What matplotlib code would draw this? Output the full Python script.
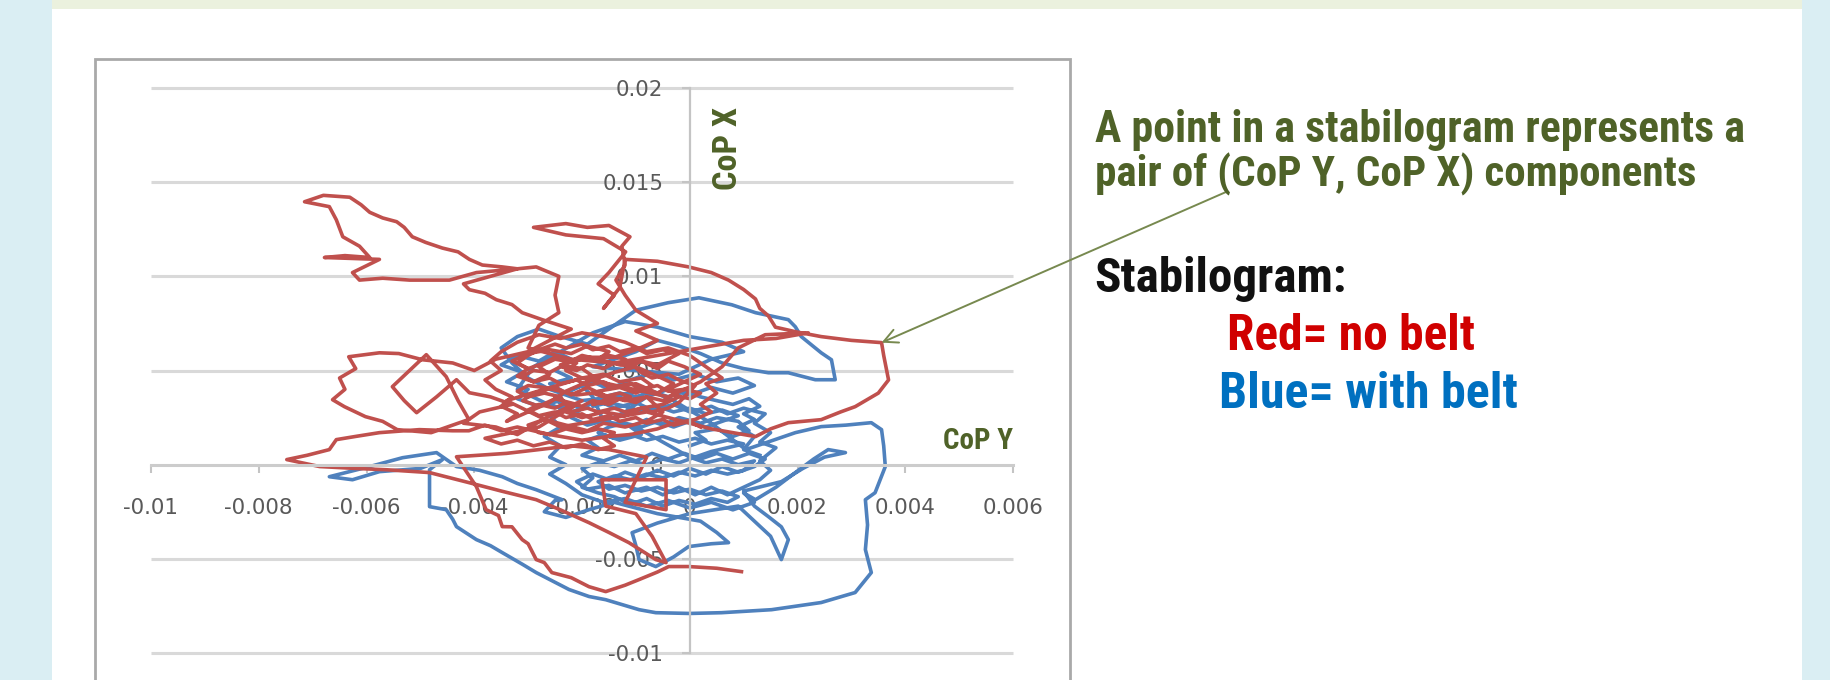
import matplotlib

matplotlib.use("Agg")
import matplotlib.pyplot as plt
import numpy as np
from matplotlib import font_manager
from matplotlib.patches import Rectangle

W, H = 1830, 680

x_ticks = [-0.01, -0.008, -0.006, -0.004, -0.002, 0, 0.002, 0.004, 0.006]
y_ticks = [-0.01, -0.005, 0, 0.005, 0.01, 0.015, 0.02]

# stabilogram traces as (CoP Y, CoP X) pairs in mm
red_dense = [
    (0.2, 2.0), (0.0, 2.3), (-0.3, 2.1), (-0.5, 2.4), (-0.8, 2.2), (-1.0, 2.5),
    (-1.3, 2.3), (-1.5, 2.6), (-1.8, 2.4), (-2.0, 2.7), (-2.3, 2.5), (-2.5, 2.8),
    (-2.8, 2.6), (-3.0, 2.9), (-2.8, 3.2), (-2.5, 3.0), (-2.3, 3.3), (-2.0, 3.1),
    (-1.8, 3.4), (-1.5, 3.2), (-1.3, 3.5), (-1.0, 3.3), (-0.8, 3.6), (-0.5, 3.4),
    (-0.3, 3.7), (0.0, 3.5), (0.2, 3.8), (-0.1, 4.0), (-0.4, 3.9), (-0.6, 4.2),
    (-0.9, 4.0), (-1.1, 4.3), (-1.4, 4.1), (-1.6, 4.4), (-1.9, 4.2), (-2.1, 4.5),
    (-2.4, 4.3), (-2.6, 4.6), (-2.9, 4.4), (-3.1, 4.7), (-2.9, 5.0), (-2.6, 4.9),
    (-2.4, 5.2), (-2.1, 5.0), (-1.9, 5.3), (-1.6, 5.1), (-1.4, 5.4), (-1.1, 5.2),
    (-0.9, 5.5), (-0.6, 5.3), (-0.4, 5.6), (-0.2, 5.9), (-0.5, 6.1), (-0.8, 5.9),
    (-1.0, 6.2), (-1.3, 6.0), (-1.5, 6.3), (-1.8, 6.1), (-2.0, 6.4), (-2.3, 6.2),
    (-2.5, 6.4), (-2.8, 6.1), (-3.0, 5.8), (-3.2, 5.4), (-3.0, 5.1), (-2.7, 5.4),
    (-2.5, 5.7), (-2.2, 5.5), (-2.0, 5.8), (-1.7, 5.6), (-1.5, 5.8), (-1.2, 5.6),
    (-0.9, 4.9), (-0.7, 4.6), (-0.4, 4.8), (-0.2, 4.5), (0.1, 4.2), (-0.2, 3.3),
    (-0.4, 3.0), (-0.7, 2.8), (-0.9, 3.0), (-1.2, 2.8), (-1.4, 3.0), (-1.7, 2.8),
    (-1.9, 3.0), (-2.2, 2.8), (-2.4, 3.6), (-2.7, 3.8), (-3.0, 3.6), (-3.2, 3.9),
    (-3.0, 4.2), (-2.7, 4.1), (-2.4, 3.9), (-2.1, 3.7), (-1.8, 3.8), (-1.6, 3.6),
    (-1.3, 3.8), (-1.1, 3.6),
]
red_core = [
    (-1.8, 3.2), (-1.5, 3.5), (-1.7, 3.9), (-1.3, 4.1), (-1.0, 3.8), (-0.7, 4.2),
    (-0.9, 4.6), (-1.3, 4.4), (-1.6, 4.8), (-2.0, 4.6), (-2.3, 5.0), (-2.1, 5.4),
    (-2.5, 5.6), (-2.8, 5.2), (-2.6, 4.8), (-2.9, 4.4), (-3.2, 4.7), (-3.0, 5.1),
    (-3.3, 5.5), (-3.0, 5.9), (-2.6, 6.1), (-2.2, 5.9), (-1.9, 6.3), (-1.5, 6.0),
    (-1.7, 5.6), (-1.3, 5.3), (-0.9, 5.5), (-0.6, 5.1), (-0.4, 5.5), (-0.1, 5.2),
    (0.2, 4.8), (-0.1, 4.4), (-0.4, 4.0), (-0.2, 3.6), (-0.5, 3.2), (-0.9, 3.0),
    (-1.2, 2.6), (-1.6, 2.8), (-2.0, 2.5), (-2.3, 2.8), (-2.1, 3.2), (-2.5, 3.5),
    (-2.8, 3.1), (-3.1, 3.4), (-2.9, 3.8), (-2.5, 4.1), (-2.2, 3.7), (-1.9, 4.1),
    (-1.6, 3.7), (-1.2, 3.4), (-0.8, 3.6), (-0.5, 2.8), (-0.8, 2.3), (-1.2, 2.0),
    (-1.6, 2.2), (-1.9, 1.8), (-2.3, 2.1), (-2.7, 2.4), (-3.0, 2.1), (-2.8, 1.7),
    (-2.4, 1.5), (-2.0, 1.3), (-1.5, 1.5), (-1.1, 1.6), (-0.6, 1.9), (-0.3, 2.2),
    (0.1, 2.4), (0.4, 2.8), (0.2, 3.2), (0.5, 3.8), (0.3, 4.3), (0.6, 4.6),
    (0.4, 5.0), (0.0, 5.8), (-0.4, 6.2), (-0.8, 6.0), (-1.2, 6.5), (-1.6, 6.8),
    (-2.0, 7.0), (-2.4, 6.7), (-2.8, 6.9), (-3.2, 6.5), (-3.5, 6.0), (-3.7, 5.5),
    (-3.5, 5.0), (-3.8, 4.5), (-3.6, 4.0), (-3.3, 3.6), (-3.5, 3.1), (-3.2, 2.7),
    (-3.4, 2.3), (-3.0, 2.8), (-2.6, 3.3), (-2.3, 3.9), (-1.9, 4.4), (-1.4, 4.9),
    (-1.0, 5.2), (-0.6, 4.7), (-0.3, 4.3), (-0.6, 3.8), (-1.0, 4.3), (-1.5, 4.1),
    (-2.0, 5.1), (-2.4, 5.3), (-1.9, 5.7), (-1.4, 5.7), (-1.0, 6.1), (-0.6, 6.6),
    (-1.0, 7.1), (-0.6, 7.5), (-1.0, 8.2),
]
red_upper_hook = [
    (-1.2, 9.0), (-1.37, 9.8), (-1.2, 10.6), (-1.26, 11.6), (-1.11, 12.1),
    (-1.5, 12.7), (-1.9, 12.6), (-2.3, 12.8), (-2.9, 12.6), (-2.3, 12.2),
    (-1.6, 12.0), (-1.19, 11.3), (-1.5, 10.2), (-1.7, 9.6), (-1.4, 9.0),
    (-1.6, 8.3), (-1.3, 9.4), (-1.2, 10.9),
]
red_right_loop = [
    (-0.6, 10.8), (-0.02, 10.5), (0.4, 10.2), (0.72, 9.8), (1.0, 9.3), (1.22, 8.8),
    (1.3, 8.3), (1.46, 7.9), (1.59, 7.3), (1.96, 7.06), (2.44, 6.8), (3.0, 6.6),
    (3.56, 6.48), (3.6, 5.8), (3.69, 4.5), (3.5, 3.8), (3.07, 3.08), (2.8, 2.8),
    (2.44, 2.39), (1.83, 2.23), (1.5, 1.9), (1.22, 1.49), (0.8, 1.7), (0.4, 1.9),
    (-0.8, 2.8), (-2.4, 2.0), (-3.4, 3.4), (-2.0, 4.6), (-0.4, 3.6), (0.2, 4.4),
    (0.6, 5.2), (0.9, 6.2), (1.4, 6.9), (2.2, 7.0), (1.6, 6.7), (1.0, 6.6),
    (0.2, 6.2), (-0.6, 5.8), (-1.4, 5.4), (-2.2, 5.6), (-3.0, 6.2), (-2.8, 7.4),
    (-2.43, 8.07),
]
red_top_left = [
    (-2.5, 9.0), (-2.43, 10.0), (-2.85, 10.5), (-3.2, 10.4), (-3.48, 10.5),
    (-3.85, 10.6), (-4.09, 10.9), (-4.3, 11.3), (-4.59, 11.5), (-4.9, 11.8),
    (-5.15, 12.1), (-5.3, 12.6), (-5.44, 12.9), (-5.7, 13.1), (-5.94, 13.4),
    (-6.1, 13.8), (-6.31, 14.2), (-6.8, 14.3), (-7.15, 13.96), (-6.69, 13.7),
    (-6.56, 13.0), (-6.44, 12.1), (-6.13, 11.6), (-5.94, 11.0), (-6.4, 11.1),
    (-6.78, 11.0), (-5.76, 10.9), (-6.26, 10.2), (-6.13, 9.8), (-5.7, 9.9),
    (-5.2, 9.8), (-4.46, 9.8), (-3.96, 10.2), (-3.2, 10.4), (-4.2, 9.6),
    (-4.09, 9.29), (-3.8, 9.1), (-3.59, 8.76), (-3.3, 8.5), (-3.11, 8.07),
    (-2.74, 7.7), (-2.2, 7.2),
]
red_left_loop = [
    (-3.0, 6.0), (-3.6, 5.6), (-4.0, 5.0), (-4.4, 5.4), (-4.96, 5.57),
    (-5.4, 5.9), (-5.76, 5.94), (-6.33, 5.73), (-6.2, 5.1), (-6.5, 4.6),
    (-6.4, 4.0), (-6.63, 3.45), (-6.41, 3.08), (-6.02, 2.55), (-5.7, 2.3),
    (-5.43, 1.86), (-4.8, 1.7), (-4.1, 2.4), (-4.3, 3.4), (-4.52, 4.67),
    (-4.89, 5.84), (-5.2, 5.0), (-5.52, 4.14), (-5.3, 3.4), (-5.07, 2.76),
    (-4.7, 3.6), (-4.33, 4.51), (-4.09, 3.82), (-3.7, 3.6), (-3.3, 3.2),
    (-3.9, 2.8), (-4.2, 2.2), (-3.6, 2.0), (-3.2, 1.6), (-2.6, 2.6),
    (-2.0, 3.4), (-2.8, 2.0), (-3.8, 1.4),
]
red_low_band = [
    (-3.5, 1.1), (-3.2, 1.3), (-2.9, 1.0), (-2.6, 1.2), (-2.3, 0.9), (-2.0, 1.1),
    (-1.7, 0.8), (-1.4, 1.0), (-1.6, 1.4), (-1.4, 1.7), (-1.7, 1.9), (-2.0, 1.7),
    (-2.3, 1.9), (-2.6, 1.6), (-2.9, 1.8), (-3.2, 2.0), (-3.5, 1.8), (-3.8, 2.1),
    (-4.1, 1.8),
]
red_left_spike = [
    (-4.4, 1.8), (-5.02, 1.86), (-5.76, 1.7), (-6.2, 1.5), (-6.56, 1.33),
    (-6.69, 0.8), (-7.1, 0.5), (-7.48, 0.27), (-6.87, -0.1), (-6.2, -0.2),
    (-5.63, -0.27), (-4.83, -0.42), (-4.09, -0.96), (-3.5, -1.4), (-2.85, -1.86),
    (-2.4, -2.4), (-1.87, -3.08), (-1.5, -3.6), (-1.13, -4.14), (-0.63, -5.04),
    (-0.44, -5.2), (-0.7, -3.8), (-1.0, -2.6), (-1.56, -2.2), (-1.63, -0.8),
    (-0.44, -0.8), (-0.44, -2.39), (-1.2, -2.0), (-0.8, 0.4), (-1.5, 0.8),
    (-2.2, 1.0), (-2.8, 0.8), (-3.4, 0.6), (-4.33, 0.42),
]
red_lower_tail = [
    (-3.96, -1.17), (-3.78, -2.39), (-3.55, -2.7), (-3.48, -3.29), (-3.3, -3.3),
    (-3.11, -3.98), (-3.0, -4.2), (-2.85, -5.04), (-2.7, -5.2), (-2.56, -5.73),
    (-2.2, -6.0), (-1.87, -6.48), (-1.56, -6.74), (-1.2, -6.4), (-0.94, -6.1),
    (-0.6, -5.7), (-0.39, -5.41), (-0.02, -5.41), (0.5, -5.5), (0.96, -5.68),
]

blue_core = [
    (0.0, 1.0), (0.3, 1.3), (0.1, 1.7), (0.5, 1.9), (0.8, 1.5), (1.1, 1.8),
    (0.9, 2.3), (0.5, 2.5), (0.2, 2.2), (-0.2, 2.5), (-0.5, 2.1), (-0.8, 2.4),
    (-1.1, 2.0), (-0.9, 1.6), (-1.3, 1.3), (-1.6, 1.6), (-1.9, 1.3), (-1.7, 0.9),
    (-2.0, 0.5), (-1.6, 0.2), (-1.3, 0.5), (-1.0, 0.2), (-0.7, 0.6), (-0.4, 0.3),
    (-0.1, 0.6), (0.2, 0.3), (0.5, 0.6), (0.8, 0.3), (1.1, 0.6), (1.4, 0.3),
    (1.2, -0.1), (0.9, -0.4), (0.6, -0.1), (0.3, -0.5), (0.0, -0.2), (-0.3, -0.6),
    (-0.6, -0.3), (-0.9, -0.7), (-1.2, -0.4), (-1.5, -0.8), (-1.8, -0.5),
    (-2.1, -0.9), (-1.9, -1.3), (-1.5, -1.1), (-1.2, -1.5), (-0.8, -1.2),
    (-0.5, -1.6), (-0.2, -1.2), (0.1, -1.6), (0.4, -1.2), (0.7, -1.6), (1.0, -1.2),
    (1.3, -0.8), (1.5, -0.3), (1.3, 0.2), (1.6, 0.9), (1.3, 1.2), (1.5, 1.7),
    (1.2, 2.2), (1.4, 2.7), (1.0, 3.0), (0.7, 2.7), (0.4, 3.1), (0.0, 2.8),
    (-0.3, 3.2), (-0.7, 2.9), (-1.0, 3.3), (-1.4, 3.0), (-1.7, 3.4), (-2.0, 3.0),
    (-2.2, 2.5), (-1.9, 2.1), (-1.5, 2.4), (-1.2, 2.8), (-0.8, 3.6), (-0.4, 4.0),
    (0.0, 3.7), (0.4, 4.1), (0.8, 3.8), (1.2, 4.2), (0.9, 4.6), (0.5, 4.4),
    (0.1, 4.8), (-0.3, 4.5), (-0.7, 4.9), (-1.1, 4.5), (-1.5, 4.0), (-1.8, 4.4),
    (-2.2, 4.0), (-2.5, 3.5), (-2.3, 3.0), (-2.6, 2.6), (-2.4, 2.0), (-2.7, 1.5),
    (-2.4, 1.0), (-2.6, 0.4), (-2.3, 0.0), (-2.6, -0.5), (-2.3, -1.0), (-2.0, -1.6),
    (-1.6, -2.0), (-1.2, -1.8), (-0.8, -2.2), (-0.4, -1.9), (0.0, -2.3), (0.4, -2.0),
    (0.8, -2.4), (1.2, -2.0), (1.0, -1.5), (1.22, -1.86),
]
blue_arms = [
    (1.6, -1.2), (1.96, -0.42), (2.3, 0.3), (2.57, 0.8), (2.89, 0.64), (2.5, 0.4),
    (2.1, -0.2), (1.7, -0.9), (1.0, -1.4), (1.2, -2.2), (1.46, -2.76), (1.7, -3.3),
    (1.83, -3.98), (1.7, -5.04), (1.5, -3.8), (1.2, -3.0), (0.9, -2.2), (0.0, -2.6),
    (-0.6, -3.1), (-1.07, -3.61), (-1.0, -4.3), (-0.94, -5.04), (-0.63, -5.41),
    (-0.3, -4.9), (-0.02, -4.35), (0.4, -4.2), (0.72, -4.14), (0.5, -3.6),
    (0.2, -3.0), (-0.6, -2.6), (-1.4, -2.0), (-1.87, -2.39), (-2.3, -2.8),
    (-2.7, -2.5), (-2.5, -1.9),
]
blue_outer_loop = [
    (-2.37, -1.86), (-2.85, -1.33), (-3.2, -1.0), (-3.48, -0.64), (-3.9, -0.3),
    (-4.33, -0.1), (-4.7, 0.64), (-5.33, 0.37), (-5.94, -0.1), (-6.69, -0.64),
    (-6.26, -0.8), (-5.76, -0.37), (-5.0, -0.2), (-4.59, 0.27), (-4.83, -0.27),
    (-4.83, -2.23), (-4.52, -2.39), (-4.4, -2.9), (-4.33, -3.29), (-3.96, -3.98),
    (-3.7, -4.3), (-3.48, -4.67), (-3.1, -5.3), (-2.85, -5.73), (-2.24, -6.63),
    (-1.87, -7.0), (-1.56, -7.17), (-0.94, -7.7), (-0.63, -7.86), (0.0, -7.9),
    (0.59, -7.86), (1.52, -7.7), (2.44, -7.32), (3.07, -6.79), (3.37, -5.73),
    (3.26, -4.51), (3.3, -3.2), (3.26, -1.86), (3.44, -1.49), (3.63, -0.1),
    (3.6, 1.0), (3.56, 1.86), (3.37, 2.23), (2.9, 2.1), (2.44, 2.02), (1.96, 1.7),
    (1.04, 0.8),
]
blue_upper = [
    (0.4, 2.2), (-0.3, 3.4), (-0.8, 4.0), (-1.4, 3.6), (-2.0, 3.4), (-2.6, 4.0),
    (-3.0, 4.6), (-3.3, 5.4), (-3.5, 6.2), (-3.2, 6.8), (-2.8, 7.2), (-2.4, 6.8),
    (-1.9, 6.4), (-1.5, 7.2), (-1.0, 8.2), (-0.4, 8.6), (0.17, 8.86),
    (0.78, 8.49), (1.22, 8.07), (1.83, 7.7), (1.96, 7.32), (2.07, 6.8),
    (2.44, 5.94), (2.63, 5.57), (2.7, 4.51), (2.33, 4.51), (1.83, 4.88),
    (1.46, 4.88), (1.0, 5.1), (0.6, 5.4), (0.2, 5.9), (-0.2, 6.3), (-0.6, 6.6),
    (-1.0, 6.0), (-1.4, 5.6), (-1.8, 5.2), (-1.0, 5.0), (-0.2, 4.8), (0.4, 5.6),
    (1.0, 6.0), (0.6, 6.5), (0.0, 6.8), (-0.6, 7.3), (-1.2, 7.6), (-1.8, 7.0),
    (-2.4, 6.0), (-2.9, 5.2), (-3.2, 4.0), (-2.7, 3.3), (-2.2, 2.8),
    (-2.0, 3.0), (-2.4, 3.4), (-2.8, 3.1), (-3.2, 3.5), (-3.0, 4.0), (-3.4, 4.4),
    (-3.1, 4.9), (-3.5, 5.3), (-3.2, 5.8), (-2.8, 5.5), (-2.5, 6.0), (-2.2, 5.6),
    (-2.5, 5.0), (-2.2, 4.6), (-2.6, 4.3), (-2.3, 3.8), (-2.0, 4.2), (-1.8, 3.6),
    (-1.6, 2.3), (-1.0, 2.0), (-0.5, 1.2), (0.0, 0.4),
]
blue_dense = [
    (0.3, 0.1), (0.6, 0.3), (0.9, 0.0), (1.2, 0.2), (1.0, -0.3), (0.7, -0.5),
    (0.4, -0.3), (0.1, -0.6), (-0.2, -0.4), (-0.5, -0.7), (-0.8, -0.5), (-1.1, -0.8),
    (-1.4, -0.6), (-1.7, -0.9), (-1.5, -1.3), (-1.2, -1.1), (-0.9, -1.4), (-0.6, -1.2),
    (-0.3, -1.5), (0.0, -1.3), (0.3, -1.6), (0.6, -1.4), (0.9, -1.7), (0.7, -2.0),
    (0.4, -1.8), (0.1, -2.1), (-0.2, -1.9), (-0.5, -2.2), (-0.8, -1.8), (-1.1, -2.1),
    (-1.4, -1.7), (-1.7, -1.5), (-2.0, -1.2), (-1.8, -0.7), (-2.0, -0.2), (-1.7, 0.1),
    (-1.4, -0.1), (-1.1, 0.2), (-0.8, 0.0), (-0.5, 0.3), (-0.2, 0.1), (0.1, 0.4),
    (0.4, 0.7), (0.7, 0.9), (1.0, 1.1), (0.7, 1.3), (0.4, 1.1), (0.1, 1.4),
    (-0.2, 1.2), (-0.5, 1.5), (-0.8, 1.3), (-1.1, 1.6), (-1.4, 1.4), (-1.7, 1.7),
    (-1.5, 2.0), (-1.2, 2.2), (-0.9, 2.0), (-0.6, 2.3), (-0.3, 2.0), (0.0, 2.3),
    (0.3, 2.0), (0.6, 2.3), (0.9, 2.6), (0.6, 2.9), (0.3, 2.7), (0.0, 3.0),
    (-0.3, 2.8), (-0.6, 3.1), (-0.9, 2.8), (-1.2, 3.1), (-1.5, 3.3), (-1.8, 3.1),
    (-1.6, 3.6), (-1.3, 3.8), (-1.0, 3.6), (-0.7, 3.9), (-0.4, 3.6), (-0.1, 3.9),
    (0.2, 3.6), (0.5, 3.4), (0.8, 3.2), (1.1, 3.5), (1.3, 3.1), (1.0, 2.7),
    (1.2, 2.4), (0.9, 2.0), (1.2, 1.5), (1.0, 0.8), (1.3, 0.5),
]

arrow_target_mm = (3.56, 6.48)

red_trace = np.array(red_dense + red_core + red_upper_hook + red_right_loop
                     + red_top_left + red_left_loop + red_low_band + red_left_spike
                     + red_lower_tail) / 1000
blue_trace = np.array(blue_core + blue_arms + blue_outer_loop + blue_upper
                      + blue_dense) / 1000

installed = {f.name for f in font_manager.fontManager.ttflist}
NARROW = next((n for n in ("Liberation Sans Narrow", "Roboto Condensed",
                           "Open Sans Condensed", "Lato") if n in installed),
              "DejaVu Sans")

plt.rcParams["axes.unicode_minus"] = False

fig = plt.figure(figsize=(W / 100, H / 100), dpi=100, facecolor="white")
renderer = fig.canvas.get_renderer()


def box(x0, y0, x1, y1, **kw):
    """Rectangle given in pixel coordinates from the top-left corner."""
    fig.patches.append(Rectangle((x0 / W, 1 - y1 / H), (x1 - x0) / W, (y1 - y0) / H,
                                 transform=fig.transFigure, **kw))


def fit_text(x, y, s, span, rotated=False, **kw):
    t = fig.text(x / W, 1 - y / H, s, fontsize=20, family=[NARROW, "DejaVu Sans"],
                 fontweight="bold", rotation=90 if rotated else 0, **kw)
    bb = t.get_window_extent(renderer)
    t.set_fontsize(20 * span / (bb.height if rotated else bb.width))
    return t


# slide frame
box(0, 0, 52, H, facecolor="#daeef3", edgecolor="none", zorder=-3)
box(1802, 0, W, H, facecolor="#daeef3", edgecolor="none", zorder=-3)
box(52, 0, 1802, 9, facecolor="#ebf1de", edgecolor="none", zorder=-3)
# chart area
box(95, 59, 1070, 720, facecolor="white", edgecolor="#a9a9a9", linewidth=2.0, zorder=-2)

ax = fig.add_axes([151 / W, 1 - 653 / H, 862 / W, 565 / H])
ax.set_facecolor("none")
ax.set_xlim(-0.01, 0.006)
ax.set_ylim(-0.01, 0.02)

ax.hlines([v for v in y_ticks if v != 0], -0.01, 0.006, color="#d9d9d9", lw=2.2,
          zorder=0.5, clip_on=False)

ax.plot(blue_trace[:, 0], blue_trace[:, 1], color="#4f81bd", lw=2.6,
        solid_joinstyle="round", zorder=2)
ax.plot(red_trace[:, 0], red_trace[:, 1], color="#c0504d", lw=2.6,
        solid_joinstyle="round", zorder=2.1)

for side in ("top", "right"):
    ax.spines[side].set_visible(False)
ax.spines["left"].set_position(("data", 0))
ax.spines["bottom"].set_position(("data", 0))
ax.spines["left"].set_color("#c4c4c4")
ax.spines["left"].set_linewidth(1.6)
ax.spines["bottom"].set_color("#cccccc")
ax.spines["bottom"].set_linewidth(2.2)

ax.set_xticks(x_ticks)
ax.set_yticks(y_ticks)
ax.set_xticklabels([f"{v:g}" for v in x_ticks])
ax.set_yticklabels([f"{v:g}" for v in y_ticks])
ax.tick_params(axis="both", direction="out", length=6, width=1.5, color="#c4c4c4",
               labelsize=15.4, labelcolor="#595959")
ax.tick_params(axis="x", pad=18)
ax.tick_params(axis="y", pad=13)

# axis titles
fit_text(728, 148, "CoP X", 83, rotated=True, color="#4f6228", ha="center", va="center")
fit_text(978, 441, "CoP Y", 70, color="#4f6228", ha="center", va="center")

# explanation
fit_text(1095, 142, "A point in a stabilogram represents a", 647, color="#4f6228",
         ha="left", va="baseline")
fit_text(1095, 186, "pair of (CoP Y, CoP X) components", 600, color="#4f6228",
         ha="left", va="baseline")
fit_text(1094, 292, "Stabilogram:", 252, color="#111111", ha="left", va="baseline")
fit_text(1227, 350, "Red= no belt", 248, color="#d00000", ha="left", va="baseline")
fit_text(1219, 408, "Blue= with belt", 298, color="#0070c0", ha="left", va="baseline")

ax.annotate("", xy=(arrow_target_mm[0] / 1000, arrow_target_mm[1] / 1000), xycoords="data",
            xytext=(1226 / W, 1 - 192 / H), textcoords="figure fraction",
            annotation_clip=False,
            arrowprops=dict(arrowstyle="->,head_length=0.5,head_width=0.25",
                            mutation_scale=20, color="#77894f", lw=1.4,
                            shrinkA=0, shrinkB=0))

fig.savefig("out.png", dpi=100, facecolor="white")
